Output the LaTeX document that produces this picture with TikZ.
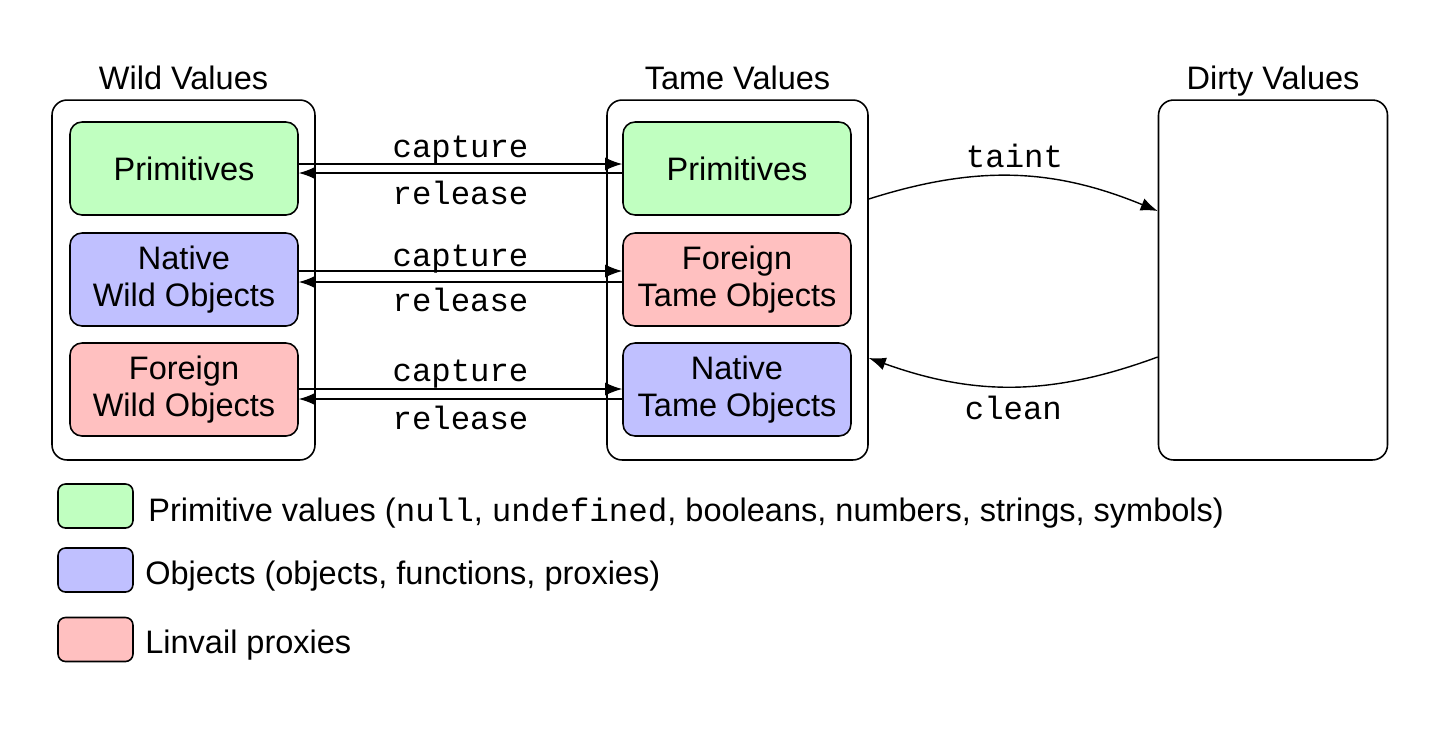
\documentclass[tikz,border=0pt]{standalone}
\usepackage{fontspec}
\setmainfont{Liberation Sans}
\setmonofont{Liberation Mono}
\usepackage{xcolor}
\usepackage{tikz}
\usetikzlibrary{positioning,arrows.meta}
\definecolor{primgreen}{RGB}{192,255,192}
\definecolor{objblue}{RGB}{192,192,255}
\definecolor{proxyred}{RGB}{255,192,192}

\begin{document}
\begin{tikzpicture}[x = 0.02cm, y = -0.02cm,
  font = \fontsize{18.5}{21.5}\selectfont,
  >={Latex[length=0.34cm,width=0.26cm]},
  outer/.style = {draw, line width=0.9pt, rounded corners=0.3cm, minimum height=7.2cm},
  inner/.style = {draw, line width=0.9pt, rounded corners=0.24cm, minimum width=4.56cm, minimum height=1.86cm, align=center},
  title/.style = {text depth=0pt},
  flow/.style = {line width=0.8pt, ->},
  op/.style = {font=\fontsize{18.4}{20}\selectfont\ttfamily},
  key/.style = {draw, line width=0.9pt, rounded corners=0.15cm, minimum width=1.5cm, minimum height=0.88cm}
]
  \useasboundingbox (0, 0) rectangle (1447, 731);

  \node[outer, minimum width = 5.26cm] (WildBox) at (183.5, 280) {};
  \node[outer, minimum width = 5.22cm] (TameBox) at (737.5, 280) {};
  \node[outer, minimum width = 4.58cm] (DirtyBox) at (1273, 280) {};

  \node[title, above = 2pt of WildBox] (WildTitle) {Wild Values};
  \node[title, above = 2pt of TameBox] (TameTitle) {Tame Values};
  \node[title, above = 2pt of DirtyBox] (DirtyTitle) {Dirty Values};

  \node[inner, fill = primgreen] (W1) at (184, 168.5) {Primitives};

  \node[inner, fill = objblue] (W2) at (184, 279.5) {Native\\Wild Objects};

  \node[inner, fill = proxyred] (W3) at (184, 389.5) {Foreign\\Wild Objects};

  \node[inner, fill = primgreen] (T1) at (737, 168.5) {Primitives};

  \node[inner, fill = proxyred] (T2) at (737, 279.5) {Foreign\\Tame Objects};

  \node[inner, fill = objblue] (T3) at (737, 389.5) {Native\\Tame Objects};

  \draw[flow] ([yshift = 0.09cm]W1.east) -- node[above = -4pt, op] {capture} ([yshift = 0.09cm]T1.west);
  \draw[flow] ([yshift = -0.09cm]T1.west) -- node[below = 1pt, op] {release} ([yshift = -0.09cm]W1.east);
  \draw[flow] ([yshift = 0.17cm]W2.east) -- node[above = -5pt, op] {capture} ([yshift = 0.17cm]T2.west);
  \draw[flow] ([yshift = -0.05cm]T2.west) -- node[below, op] {release} ([yshift = -0.05cm]W2.east);
  \draw[flow] ([yshift = 0.01cm]W3.east) -- node[above = -3pt, op] {capture} ([yshift = 0.01cm]T3.west);
  \draw[flow] ([yshift = -0.19cm]T3.west) -- node[below = 0.5pt, op] {release} ([yshift = -0.19cm]W3.east);

  \draw[flow] ([yshift = 1.62cm]TameBox.east) to[bend left = 20] node[above = 1pt, op] {taint} ([yshift = 1.38cm]DirtyBox.west);
  \draw[flow] ([yshift = -1.54cm]DirtyBox.west) to[bend left = 20] node[below = 1.5pt, op] {clean} ([yshift = -1.56cm]TameBox.east);

  % legend
  \node[key, fill = primgreen] (L1) at (95.5, 506) {};
  \node[key, fill = objblue] (L2) at (95.5, 570) {};
  \node[key, fill = proxyred] (L3) at (95.5, 639.5) {};

  \node[anchor = base west, inner sep = 0pt] (L1Text) at (148, 521) {Primitive values (\texttt{null}, \texttt{undefined}, booleans, numbers, strings, symbols)};

  \node[anchor = base west, inner sep = 0pt] (L2Text) at (145, 584) {Objects (objects, functions, proxies)};

  \node[anchor = base west, inner sep = 0pt] (L3Text) at (145, 653) {Linvail proxies};
\end{tikzpicture}
\end{document}
